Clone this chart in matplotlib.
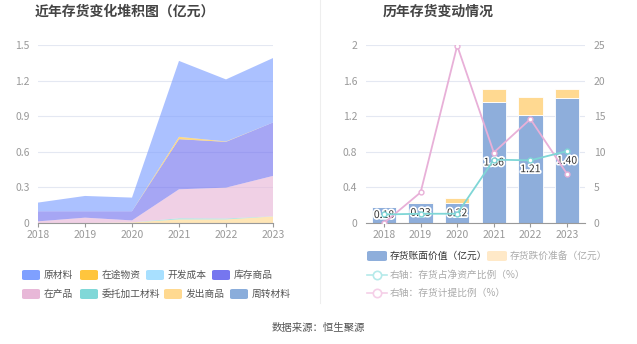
import matplotlib.pyplot as plt
import numpy as np
from matplotlib.patches import FancyBboxPatch
from matplotlib.lines import Line2D
import matplotlib.patheffects as pe

plt.rcParams['font.family'] = ['Noto Sans CJK SC', 'DejaVu Sans']

years = ['2018', '2019', '2020', '2021', '2022', '2023']

# 左图：存货构成（亿元）
raw_material = [0.073, 0.129, 0.115, 0.640, 0.523, 0.543]   # 原材料
in_transit = [0.0, 0.0, 0.0, 0.020, 0.003, 0.0]              # 在途物资
dev_cost = [0.0, 0.0, 0.0, 0.0, 0.0, 0.0]                    # 开发成本
goods_stock = [0.085, 0.054, 0.077, 0.422, 0.386, 0.450]     # 库存商品
wip = [0.014, 0.045, 0.017, 0.244, 0.260, 0.340]             # 在产品
outsourced = [0.0, 0.0, 0.0, 0.010, 0.008, 0.002]            # 委托加工材料
shipped = [0.0, 0.0, 0.005, 0.030, 0.030, 0.055]             # 发出商品
turnover = [0.0, 0.0, 0.0, 0.0, 0.0, 0.0]                    # 周转材料

legend_names = ['原材料', '在途物资', '开发成本', '库存商品',
                '在产品', '委托加工材料', '发出商品', '周转材料']
legend_colors = ['#7fa0ff', '#ffc53d', '#a8e0ff', '#7676ef',
                 '#e8b8d8', '#80d8d8', '#ffd990', '#8aaddb']

# 右图
book_value = [0.18, 0.23, 0.22, 1.36, 1.21, 1.40]      # 存货账面价值（亿元）
provision = [0.0, 0.01, 0.06, 0.15, 0.21, 0.11]        # 存货跌价准备（亿元）
net_asset_ratio = [1.2, 1.3, 1.3, 8.9, 8.8, 10.1]      # 存货占净资产比例（%）
provision_ratio = [0.0, 4.3, 24.9, 9.9, 14.6, 6.9]     # 存货计提比例（%）

W, H = 637, 344
fig = plt.figure(figsize=(W / 100, H / 100), dpi=100)

def fx(px):
    return px / W

def fy(py):
    return 1 - py / H

tick_color = '#999999'
grid_color = '#e4e8f2'

# ---------------- 左图 ----------------
ax1 = fig.add_axes([fx(38), fy(223), fx(273 - 38), (223 - 45) / H])
x = np.arange(len(years))
stack_series = [turnover, shipped, outsourced, wip, goods_stock, dev_cost, in_transit, raw_material]
stack_colors = ['#8aaddb', '#ffd990', '#80d8d8', '#e8b8d8', '#7676ef', '#a8e0ff', '#ffc53d', '#7fa0ff']
ax1.stackplot(x, *stack_series, colors=stack_colors, alpha=0.65, linewidth=0)
ax1.set_xlim(0, 5)
ax1.set_ylim(0, 1.5)
ax1.set_yticks([0, 0.3, 0.6, 0.9, 1.2, 1.5])
ax1.set_yticklabels(['0', '0.3', '0.6', '0.9', '1.2', '1.5'])
ax1.set_xticks(x)
ax1.set_xticklabels(years)
for s in ['top', 'right', 'left']:
    ax1.spines[s].set_visible(False)
ax1.spines['bottom'].set_color('#999999')
ax1.tick_params(axis='y', length=0, colors=tick_color, labelsize=7.5, pad=6)
ax1.tick_params(axis='x', length=3, color='#999999', colors=tick_color, labelsize=7.5, pad=2)
ax1.grid(axis='y', color=grid_color, linewidth=0.8)
ax1.set_axisbelow(True)

fig.text(fx(125), fy(12), '近年存货变化堆积图（亿元）', ha='center', va='center',
         fontsize=10, fontweight='bold', color='#444444')

# 左图图例
leg_pos = [(22, 275), (80, 275), (146, 275), (212, 275),
           (22, 294), (80, 294), (164, 294), (230, 294)]
for name, c, (px, py) in zip(legend_names, legend_colors, leg_pos):
    fig.patches.append(FancyBboxPatch((fx(px), fy(py + 5)), fx(18), 10 / H,
                                      boxstyle='round,pad=0,rounding_size=0.004',
                                      transform=fig.transFigure, facecolor=c,
                                      edgecolor='none'))
    fig.text(fx(px + 22), fy(py), name, ha='left', va='center', fontsize=7, color='#555555')

# 分隔线
fig.add_artist(Line2D([fx(320), fx(320)], [fy(0), fy(303)], color='#eeeeee', linewidth=0.8))

# ---------------- 右图 ----------------
ax2 = fig.add_axes([fx(365.7), fy(223), fx(585.3 - 365.7), (223 - 45) / H])
bar_w = 0.67
ax2.bar(x, book_value, width=bar_w, color='#8eaedb', edgecolor='white', linewidth=0.6, zorder=2)
ax2.bar(x, provision, width=bar_w, bottom=book_value, color='#ffd991',
        edgecolor='white', linewidth=0.6, zorder=2)
ax2.set_xlim(-0.5, 5.5)
ax2.set_ylim(0, 2)
ax2.set_yticks([0, 0.4, 0.8, 1.2, 1.6, 2])
ax2.set_yticklabels(['0', '0.4', '0.8', '1.2', '1.6', '2'])
ax2.set_xticks(x)
ax2.set_xticklabels(years)
for s in ['top', 'right', 'left']:
    ax2.spines[s].set_visible(False)
ax2.spines['bottom'].set_color('#999999')
ax2.tick_params(axis='y', length=0, colors=tick_color, labelsize=7.5, pad=6)
ax2.tick_params(axis='x', length=3, color='#999999', colors=tick_color, labelsize=7.5, pad=2)
ax2.grid(axis='y', color=grid_color, linewidth=0.8)
ax2.set_axisbelow(True)

ax3 = ax2.twinx()
ax3.set_ylim(0, 25)
ax3.set_yticks([0, 5, 10, 15, 20, 25])
for s in ['top', 'right', 'left', 'bottom']:
    ax3.spines[s].set_visible(False)
ax3.tick_params(axis='y', length=0, colors=tick_color, labelsize=7.5, pad=6)

for xi, v in zip(x, book_value):
    ax3.text(xi, v / 2 * 12.5, f'{v:.2f}', ha='center', va='center', fontsize=7.5,
             color='#333333', zorder=2,
             path_effects=[pe.withStroke(linewidth=2.5, foreground='white')])

ax3.plot(x, provision_ratio, color='#e8b0d8', linewidth=1.3, marker='o', markersize=3.5,
         markerfacecolor='white', markeredgewidth=1.0, zorder=3)
ax3.plot(x, net_asset_ratio, color='#7fd6d6', linewidth=1.3, marker='o', markersize=3.5,
         markerfacecolor='white', markeredgewidth=1.0, zorder=3)

fig.text(fx(438), fy(12), '历年存货变动情况', ha='center', va='center',
         fontsize=10, fontweight='bold', color='#444444')

# 右图图例
fig.patches.append(FancyBboxPatch((fx(367), fy(261)), fx(20), 10 / H,
                                  boxstyle='round,pad=0,rounding_size=0.004',
                                  transform=fig.transFigure, facecolor='#8eaedb', edgecolor='none'))
fig.text(fx(390), fy(256), '存货账面价值（亿元）', ha='left', va='center', fontsize=7, color='#333333')
fig.patches.append(FancyBboxPatch((fx(487), fy(261)), fx(20), 10 / H,
                                  boxstyle='round,pad=0,rounding_size=0.004',
                                  transform=fig.transFigure, facecolor='#ffe9c8', edgecolor='none'))
fig.text(fx(510), fy(256), '存货跌价准备（亿元）', ha='left', va='center', fontsize=7, color='#aaaaaa')

for py, c, label in [(275, '#b5eaea', '右轴：存货占净资产比例（%）'),
                     (293, '#f5cfe8', '右轴：存货计提比例（%）')]:
    fig.add_artist(Line2D([fx(367), fx(387)], [fy(py), fy(py)], color=c, linewidth=1.2))
    fig.add_artist(Line2D([fx(377)], [fy(py)], color=c, marker='o', markersize=6,
                          markerfacecolor='white', markeredgewidth=1.2))
    fig.text(fx(390), fy(py), label, ha='left', va='center', fontsize=7, color='#aaaaaa')

fig.text(fx(318), fy(328), '数据来源：恒生聚源', ha='center', va='center', fontsize=7.5, color='#555555')

fig.savefig('out.png', dpi=100)
